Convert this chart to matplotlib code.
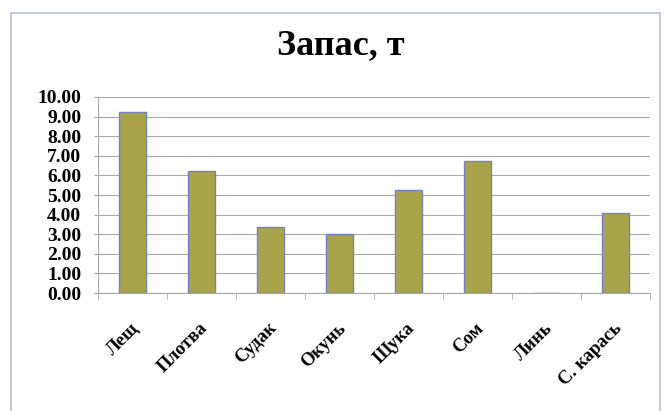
import numpy as np
import matplotlib
matplotlib.use("Agg")
import matplotlib.pyplot as plt
from matplotlib.patches import Rectangle
from matplotlib.transforms import ScaledTranslation

categories = ["Лещ", "Плотва", "Судак", "Окунь", "Щука", "Сом", "Линь", "С. карась"]
stock = [9.23, 6.22, 3.35, 3.03, 5.25, 6.73, 0.0, 4.10]
yticks = np.arange(0, 11, 1)

plt.rcParams['font.family'] = ['Liberation Serif', 'DejaVu Serif']

fig = plt.figure(figsize=(6.70, 4.11), dpi=100)
ax = fig.add_axes([0.146, 0.287, 0.824, 0.477])

# outer chart frame
fig.patches.append(Rectangle((11 / 670, -0.05), 649 / 670, 1 - 13 / 411 + 0.05,
                             transform=fig.transFigure, fill=False,
                             edgecolor='#b9bdd6', linewidth=1.2))

x = np.arange(len(categories))
ax.bar(x, stock, width=0.4, color='#a9a34a', edgecolor='#7482bd', linewidth=1, zorder=3)

ax.set_xlim(-0.5, len(categories) - 0.5)
ax.set_ylim(0, 10)
ax.set_yticks(yticks)
ax.set_yticklabels([f"{v:.2f}" for v in yticks], fontsize=14, fontweight='bold')
ax.yaxis.grid(True, color='#a8a8a8', linewidth=0.8, zorder=0)

ax.set_xticks(x)
ax.set_xticklabels(categories, fontsize=13.5, fontweight='bold', rotation=45,
                   ha='right', rotation_mode='anchor')
ax.tick_params(axis='x', length=0, pad=19)
shift = ScaledTranslation(-2 / 100, 0, fig.dpi_scale_trans)
for lbl in ax.get_xticklabels():
    lbl.set_transform(lbl.get_transform() + shift)
ax.set_xticks(np.arange(-0.5, len(categories), 1), minor=True)
ax.tick_params(axis='x', which='minor', length=4, color='#a8a8a8')
ax.tick_params(axis='y', length=3, color='#a8a8a8', pad=9)

for side in ['top', 'right']:
    ax.spines[side].set_visible(False)
for side in ['left', 'bottom']:
    ax.spines[side].set_color('#a8a8a8')

fig.text(0.508, 0.888, "Запас, т", ha='center', va='center', fontsize=26, fontweight='bold')

fig.savefig("out.png", dpi=100)
